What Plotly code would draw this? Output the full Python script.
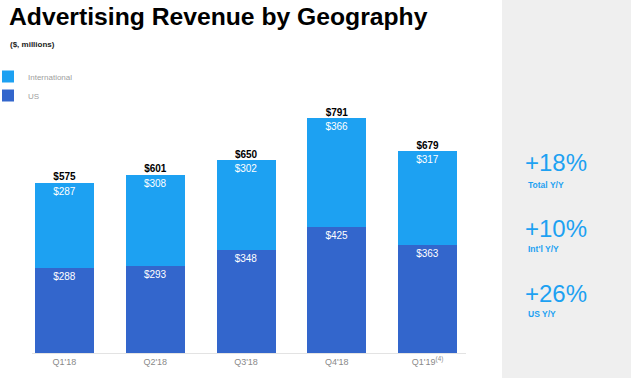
import plotly.graph_objects as go

W, H = 631, 378

quarters = ["Q1'18", "Q2'18", "Q3'18", "Q4'18", "Q1'19<sup>(4)</sup>"]
us = [288, 293, 348, 425, 363]
intl = [287, 308, 302, 366, 317]
totals = [575, 601, 650, 791, 679]

growth_values = ["+18%", "+10%", "+26%"]
growth_labels = ["Total Y/Y", "Int'l Y/Y", "US Y/Y"]

TW_BLUE = "#1da1f2"
US_BLUE = "#3366cc"

fig = go.Figure()
fig.add_trace(go.Bar(
    x=quarters, y=us, name="US", marker=dict(color=US_BLUE, line=dict(width=0)),
    text=[f"${v}" for v in us], textposition="inside", insidetextanchor="end",
    textfont=dict(color="white", size=10, family="Liberation Sans"),
    constraintext="none", hoverinfo="skip",
))
fig.add_trace(go.Bar(
    x=quarters, y=intl, name="International", marker=dict(color=TW_BLUE, line=dict(width=0)),
    text=[f"${v}" for v in intl], textposition="inside", insidetextanchor="end",
    textfont=dict(color="white", size=10, family="Liberation Sans"),
    constraintext="none", hoverinfo="skip",
))
fig.add_trace(go.Scatter(
    x=quarters, y=totals, mode="text", text=[f"<b>${v}</b>" for v in totals],
    textposition="top center", textfont=dict(color="black", size=10, family="Liberation Sans"),
    showlegend=False, hoverinfo="skip", cliponaxis=False,
))

# axis geometry (pixels)
x0, x1 = 32, 466
y_bottom, y_top = 353, 100
scale = 0.2965  # px per unit
ymax = (y_bottom - y_top) / scale

fig.update_layout(
    width=W, height=H,
    margin=dict(l=0, r=0, t=0, b=0, autoexpand=False),
    paper_bgcolor="white", plot_bgcolor="white",
    barmode="stack", bargap=0.35,
    font=dict(family="Liberation Sans"),
    xaxis=dict(
        domain=[x0 / W, x1 / W], range=[-0.358, 4.424],
        showline=True, linecolor="#e3e3e3", linewidth=1,
        showgrid=False, zeroline=False, ticks="",
        tickfont=dict(color="#8a8a8a", size=9, family="Liberation Sans"),
        fixedrange=True,
    ),
    yaxis=dict(
        domain=[(H - y_bottom) / H, (H - y_top) / H], range=[0, ymax],
        visible=False, fixedrange=True,
    ),
    legend=dict(
        x=-12 / W, y=(H - 62) / H, xanchor="left", yanchor="top",
        traceorder="reversed", font=dict(color="#a0a0a0", size=8),
        itemwidth=30, bgcolor="rgba(0,0,0,0)", tracegroupgap=0,
    ),
    showlegend=True,
)

# right-hand grey panel
fig.add_shape(type="rect", xref="paper", yref="paper",
              x0=502 / W, x1=1, y0=0, y1=1,
              fillcolor="#efefef", line=dict(width=0), layer="below")

annotations = [
    dict(text="<b>Advertising Revenue by Geography</b>", x=7 / W, y=1 - 16 / H,
         font=dict(size=24.7, color="black", family="Liberation Sans")),
    dict(text="<b>($, millions)</b>", x=8 / W, y=1 - 44 / H,
         font=dict(size=8, color="#222222", family="Liberation Sans")),
]
big_y = [163, 228, 293]
small_y = [185, 249, 314]
for v, lab, by, sy in zip(growth_values, growth_labels, big_y, small_y):
    annotations.append(dict(text=v, x=523 / W, y=1 - by / H,
                            font=dict(size=24, color=TW_BLUE, family="Liberation Sans")))
    annotations.append(dict(text=f"<b>{lab}</b>", x=526 / W, y=1 - sy / H,
                            font=dict(size=8.5, color=TW_BLUE, family="Liberation Sans")))
for a in annotations:
    a.update(xref="paper", yref="paper", xanchor="left", yanchor="middle", showarrow=False)
fig.update_layout(annotations=annotations)

fig.write_html("out.html", config={"displayModeBar": False},
               post_script="document.body.style.margin='0';")
